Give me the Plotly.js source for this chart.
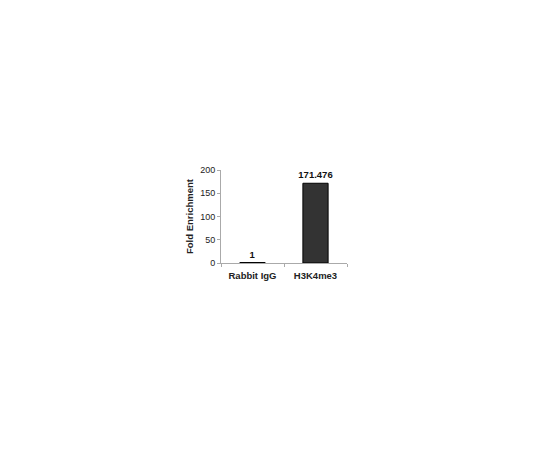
<!DOCTYPE html>
<html><head><meta charset="utf-8">
<script src="https://cdn.plot.ly/plotly-3.0.1.min.js"></script>
<style>body{margin:0;background:#fff}#c{width:540px;height:450px}</style>
</head><body><div id="c"></div>
<script>
const categories = ["Rabbit IgG", "H3K4me3"];
const values = [1, 171.476];
const valueLabels = ["1", "171.476"];
const yTicks = [0, 50, 100, 150, 200];

Plotly.newPlot("c", [{
  type: "bar",
  x: categories,
  y: values,
  text: valueLabels,
  textposition: "outside",
  constraintext: "none",
  cliponaxis: false,
  textfont: {family: "Liberation Sans, Arial", size: 9.5, color: "#111", weight: "bold"},
  marker: {color: "#333333", line: {color: "#000", width: 1}},
  width: 0.4
}], {
  width: 540, height: 450,
  margin: {l: 221, r: 193, t: 170, b: 187},
  paper_bgcolor: "#fff", plot_bgcolor: "#fff",
  showlegend: false,
  font: {family: "Liberation Sans, Arial", size: 9, color: "#222"},
  xaxis: {
    showline: true, linecolor: "#aaa", linewidth: 1,
    ticks: "outside", tickson: "boundaries", ticklen: 3, tickcolor: "#aaa",
    ticklabelstandoff: 4, showgrid: false,
    tickfont: {size: 9.5, weight: "bold", color: "#222"}
  },
  yaxis: {
    range: [0, 200], tickvals: yTicks,
    showline: true, linecolor: "#aaa", linewidth: 1,
    ticks: "outside", ticklen: 3, tickcolor: "#aaa",
    showgrid: false, zeroline: false,
    tickfont: {size: 9, color: "#222"},
    title: {text: "Fold Enrichment", font: {size: 9.5, weight: "bold", color: "#222"}, standoff: 4}
  }
}, {displayModeBar: false, staticPlot: true});
</script></body></html>
